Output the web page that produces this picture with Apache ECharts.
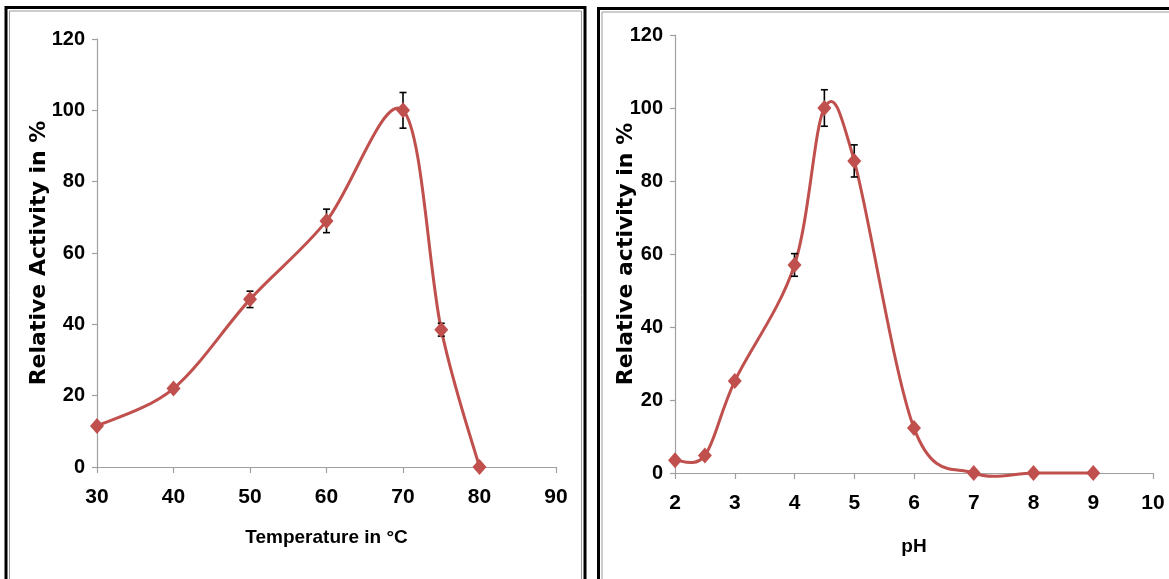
<!DOCTYPE html>
<html>
<head>
<meta charset="utf-8">
<script src="https://cdn.jsdelivr.net/npm/echarts@6/dist/echarts.min.js"></script>
<style>
html,body{margin:0;padding:0;background:#fff;}
#chart{width:1169px;height:579px;}
</style>
</head>
<body>
<div id="chart"></div>
<script>
// ---- data ----
const tempX = [30, 40, 50, 60, 70, 75, 80];
const tempActivity = [11.5, 22, 47, 69, 100, 38.5, 0];
const tempError = [0, 0, 2.3, 3.3, 5, 1.8, 0];

const phX = [2, 2.5, 3, 4, 4.5, 5, 6, 7, 8, 9];
const phActivity = [3.5, 4.8, 25.2, 57, 100, 85.5, 12.3, 0, 0, 0];
const phError = [0, 0, 0, 3.1, 5, 4.4, 0, 0, 0, 0];

const tempTitle = 'Temperature in °C';
const phTitle = 'pH';
const tempYTitle = 'Relative Activity in %';
const phYTitle = 'Relative activity in %';

// ---- styles ----
const RED = '#C0504D';
const AXIS = '#A0A0A0';
const LAB = "'Liberation Sans', Arial, sans-serif";
const WIDE = "'DejaVu Sans', sans-serif";

const chart = echarts.init(document.getElementById('chart'), null, {renderer: 'canvas'});

function pairs(xs, ys) { return xs.map((x, i) => [x, ys[i]]); }
function triples(xs, ys, es) { return xs.map((x, i) => [x, ys[i], es[i]]); }

function errRender(params, api) {
  const x = api.value(0), y = api.value(1), e = api.value(2);
  if (!e) return null;
  const top = api.coord([x, y + e]);
  const bot = api.coord([x, y - e]);
  const w = 3.5;
  const st = {stroke: '#000', lineWidth: 1.6};
  return {
    type: 'group',
    children: [
      {type: 'line', shape: {x1: top[0], y1: top[1], x2: bot[0], y2: bot[1]}, style: st},
      {type: 'line', shape: {x1: top[0] - w, y1: top[1], x2: top[0] + w, y2: top[1]}, style: st},
      {type: 'line', shape: {x1: bot[0] - w, y1: bot[1], x2: bot[0] + w, y2: bot[1]}, style: st}
    ]
  };
}

// Smoothed line (spreadsheet-style Bezier through the measured points, in pixel space)
function curveRender(xs, ys) {
  return function (params, api) {
    if (params.dataIndex !== 0) return null;
    const pts = xs.map((x, i) => api.coord([x, ys[i]]));
    const n = pts.length;
    const children = [];
    for (let i = 0; i < n - 1; i++) {
      const p0 = pts[i - 1] || pts[i];
      const p1 = pts[i];
      const p2 = pts[i + 1];
      const p3 = pts[i + 2] || pts[i + 1];
      children.push({
        type: 'bezierCurve',
        shape: {
          x1: p1[0], y1: p1[1], x2: p2[0], y2: p2[1],
          cpx1: p1[0] + (p2[0] - p0[0]) / 6, cpy1: p1[1] + (p2[1] - p0[1]) / 6,
          cpx2: p2[0] - (p3[0] - p1[0]) / 6, cpy2: p2[1] - (p3[1] - p1[1]) / 6
        },
        style: {stroke: RED, lineWidth: 3, fill: null, lineCap: 'round'}
      });
    }
    return {type: 'group', children: children};
  };
}

function xAxisCfg(idx, min, max, interval, name, gap) {
  return {
    type: 'value', gridIndex: idx, min: min, max: max, interval: interval,
    name: name, nameLocation: 'middle', nameGap: gap, nameMoveOverlap: false,
    nameTextStyle: {fontFamily: LAB, fontWeight: 'bold', fontSize: 19, color: '#000'},
    axisLine: {show: true, onZero: false, lineStyle: {color: AXIS, width: 1.2}},
    axisTick: {show: true, inside: false, length: 6, lineStyle: {color: AXIS, width: 1.2}},
    axisLabel: {fontFamily: LAB, fontWeight: 'bold', fontSize: 21, color: '#000', margin: 20},
    splitLine: {show: false}
  };
}
function yAxisCfg(idx, name, gap) {
  return {
    type: 'value', gridIndex: idx, min: 0, max: 120, interval: 20,
    name: name, nameLocation: 'middle', nameGap: gap, nameRotate: 90, nameMoveOverlap: false,
    nameTextStyle: {fontFamily: WIDE, fontWeight: 'bold', fontSize: 22, color: '#000'},
    axisLine: {show: true, lineStyle: {color: AXIS, width: 1.2}},
    axisTick: {show: true, inside: false, length: 5, lineStyle: {color: AXIS, width: 1.2}},
    axisLabel: {fontFamily: LAB, fontWeight: 'bold', fontSize: 20, color: '#000', margin: 12},
    splitLine: {show: false}
  };
}

const option = {
  backgroundColor: '#fff',
  animation: false,
  graphic: [
    {type: 'rect', z: 100, shape: {x: 6, y: 7.5, width: 579, height: 640}, style: {fill: 'none', stroke: '#000', lineWidth: 3}},
    {type: 'rect', z: 100, shape: {x: 9.5, y: 11, width: 572, height: 640}, style: {fill: 'none', stroke: '#9a9a9a', lineWidth: 1}},
    {type: 'rect', z: 100, shape: {x: 598.5, y: 8.5, width: 640, height: 640}, style: {fill: 'none', stroke: '#000', lineWidth: 3}},
    {type: 'rect', z: 100, shape: {x: 602, y: 12, width: 640, height: 640}, style: {fill: 'none', stroke: '#9a9a9a', lineWidth: 1}}
  ],
  grid: [
    {left: 97, top: 39, width: 459, height: 428, containLabel: false},
    {left: 675, top: 35, width: 478, height: 438, containLabel: false}
  ],
  xAxis: [
    xAxisCfg(0, 30, 90, 10, tempTitle, 61),
    xAxisCfg(1, 2, 10, 1, phTitle, 64)
  ],
  yAxis: [
    yAxisCfg(0, tempYTitle, 47),
    yAxisCfg(1, phYTitle, 38)
  ],
  series: [
    {
      type: 'custom', xAxisIndex: 0, yAxisIndex: 0, z: 2, clip: false,
      renderItem: curveRender(tempX, tempActivity), encode: {x: 0, y: 1},
      data: pairs(tempX, tempActivity)
    },
    {
      type: 'custom', xAxisIndex: 0, yAxisIndex: 0, z: 3,
      renderItem: errRender, encode: {x: 0, y: 1},
      data: triples(tempX, tempActivity, tempError)
    },
    {
      type: 'scatter', xAxisIndex: 0, yAxisIndex: 0, z: 4,
      data: pairs(tempX, tempActivity),
      symbol: 'diamond', symbolSize: [14, 16],
      itemStyle: {color: RED, opacity: 1}
    },
    {
      type: 'custom', xAxisIndex: 1, yAxisIndex: 1, z: 2, clip: false,
      renderItem: curveRender(phX, phActivity), encode: {x: 0, y: 1},
      data: pairs(phX, phActivity)
    },
    {
      type: 'custom', xAxisIndex: 1, yAxisIndex: 1, z: 3,
      renderItem: errRender, encode: {x: 0, y: 1},
      data: triples(phX, phActivity, phError)
    },
    {
      type: 'scatter', xAxisIndex: 1, yAxisIndex: 1, z: 4,
      data: pairs(phX, phActivity),
      symbol: 'diamond', symbolSize: [14, 16],
      itemStyle: {color: RED, opacity: 1}
    }
  ]
};
chart.setOption(option);
</script>
</body>
</html>
